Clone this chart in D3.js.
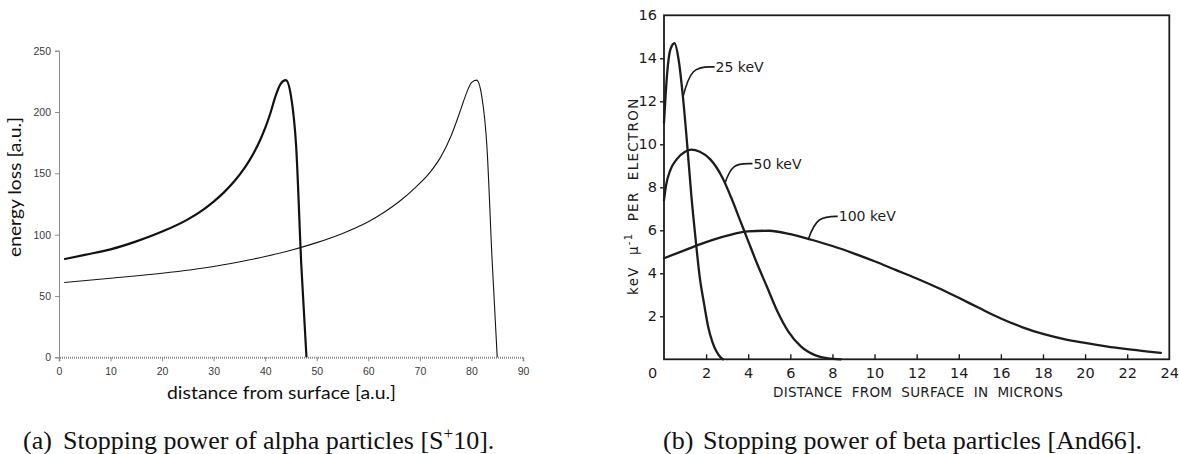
<!DOCTYPE html>
<html>
<head>
<meta charset="utf-8">
<script src="https://cdn.jsdelivr.net/npm/d3@7"></script>
<style>
  html, body { margin: 0; padding: 0; background: #fff; }
  svg { display: block; }
  text { white-space: pre; }
</style>
</head>
<body>
<svg id="fig" width="1179" height="454"></svg>
<script>
// ---------- (a) alpha particles: energy loss vs. depth ----------
const alphaDepthThick = [1, 5, 10, 15, 20, 25, 28, 30, 32, 34, 36, 37, 38, 39, 40, 41, 42, 43, 44, 45, 46, 47, 48];
const alphaLossThick  = [80, 83.5, 88, 94.5, 102.5, 112.5, 120.5, 127, 134.5, 143.5, 154.5, 161, 168.5, 177, 187, 199, 213, 223, 226, 213, 172, 75, 0];

const alphaDepthThin = [1, 10, 20, 30, 37, 40, 45, 50, 55, 60, 63, 66, 69, 72, 74, 76, 77, 78, 79, 80, 81, 82, 83, 84, 85];
const alphaLossThin  = [61, 64.5, 68.5, 74, 79.5, 82.2, 87.3, 93.5, 101, 110.5, 118, 127, 138, 151, 163, 180, 191, 203, 215, 224, 226, 213, 172, 80, 0];

const alphaXTicks = [0, 10, 20, 30, 40, 50, 60, 70, 80, 90];
const alphaYTicks = [0, 50, 100, 150, 200, 250];

// ---------- (b) beta particles: keV per micron per electron ----------
const beta25Depth  = [0, 0.15, 0.3, 0.5, 0.7, 0.9, 1.1, 1.3, 1.5, 1.7, 1.9, 2.1, 2.3, 2.5, 2.7, 2.8];
const beta25Loss   = [11, 13.3, 14.4, 14.7, 13.9, 12.2, 10.0, 7.6, 5.6, 3.8, 2.6, 1.5, 0.8, 0.35, 0.08, 0];

const beta50Depth  = [0, 0.1, 0.3, 0.6, 1.0, 1.3, 1.7, 2.2, 2.8, 3.2, 3.6, 4.0, 4.4, 4.9, 5.4, 5.9, 6.5, 7.2, 7.8, 8.4];
const beta50Loss   = [7.4, 8.1, 8.8, 9.3, 9.65, 9.75, 9.65, 9.3, 8.4, 7.5, 6.5, 5.5, 4.5, 3.35, 2.2, 1.3, 0.6, 0.18, 0.04, 0];

const beta100Depth = [0, 1, 2, 3, 4, 5, 6, 7, 8, 9, 10, 11, 12, 13, 14, 15, 16, 17, 18, 19, 20, 21, 22, 23, 23.6];
const beta100Loss  = [4.7, 5.08, 5.45, 5.75, 5.95, 5.98, 5.82, 5.56, 5.27, 4.93, 4.56, 4.16, 3.76, 3.33, 2.86, 2.37, 1.9, 1.5, 1.18, 0.94, 0.76, 0.6, 0.47, 0.36, 0.3];

const betaXTicks = [0, 2, 4, 6, 8, 10, 12, 14, 16, 18, 20, 22, 24];
const betaYTicks = [2, 4, 6, 8, 10, 12, 14, 16];

// curve labels: text, point on the curve, bend of the leader, start of the text (data units)
const betaLabels     = ["25 keV", "50 keV", "100 keV"];
const betaLabelAnchU = [0.9, 2.9, 6.86];
const betaLabelAnchV = [12.2, 8.2, 5.6];
const betaLabelEndU  = [2.19, 4.0, 8.2];
const betaLabelEndV  = [13.6, 9.1, 6.65];
const betaLabelTxtU  = [2.45, 4.25, 8.3];

const svg = d3.select("#fig");

// ================= panel (a) =================
const xA = d3.scaleLinear().domain([0, 90]).range([59, 523]);
const yA = d3.scaleLinear().domain([0, 250]).range([357.3, 50.7]);
const gA = svg.append("g");

// y axis
const yAxisA = d3.axisLeft(yA).tickValues(alphaYTicks).tickSize(4).tickPadding(4);
gA.append("g").attr("transform", `translate(${xA(0)},0)`).call(yAxisA)
  .call(g => {
    g.select(".domain").attr("stroke", "#8c8c8c").attr("stroke-width", 1);
    g.selectAll(".tick line").attr("stroke", "#8c8c8c");
    g.selectAll(".tick text").attr("fill", "#3a3a3a")
      .style("font-family", "Liberation Sans, Arial, sans-serif").style("font-size", "10.5px");
  });

// x axis
const xAxisA = d3.axisBottom(xA).tickValues(alphaXTicks).tickSize(4).tickPadding(6);
gA.append("g").attr("transform", `translate(0,${yA(0)})`).call(xAxisA)
  .call(g => {
    g.select(".domain").attr("stroke", "#8a8a8a").attr("stroke-width", 2).attr("stroke-dasharray", "1,1");
    g.selectAll(".tick line").attr("stroke", "#8c8c8c");
    g.selectAll(".tick text").attr("fill", "#3a3a3a")
      .style("font-family", "Liberation Sans, Arial, sans-serif").style("font-size", "10.5px");
  });

const lineA = d3.line().x(d => xA(d[0])).y(d => yA(d[1])).curve(d3.curveMonotoneX);
gA.append("path").datum(d3.zip(alphaDepthThin, alphaLossThin))
  .attr("d", lineA).attr("fill", "none").attr("stroke", "#151515").attr("stroke-width", 1.1);
gA.append("path").datum(d3.zip(alphaDepthThick, alphaLossThick))
  .attr("d", lineA).attr("fill", "none").attr("stroke", "#111").attr("stroke-width", 2.2)
  .attr("stroke-linejoin", "round");

// axis titles
gA.append("text").attr("x", 167).attr("y", 399)
  .attr("textLength", 229).attr("lengthAdjust", "spacingAndGlyphs")
  .style("font-family", "Lato, 'Open Sans', sans-serif").style("font-size", "18px").attr("fill", "#111")
  .text("distance from surface [a.u.]");
gA.append("text").attr("transform", "translate(21,187) rotate(-90)")
  .attr("text-anchor", "middle")
  .attr("textLength", 140).attr("lengthAdjust", "spacingAndGlyphs")
  .style("font-family", "Lato, 'Open Sans', sans-serif").style("font-size", "18px").attr("fill", "#111")
  .text("energy loss [a.u.]");

// ================= panel (b) =================
const xB = d3.scaleLinear().domain([0, 24]).range([664, 1169.3]);
const yB = d3.scaleLinear().domain([0, 16]).range([359.3, 15.3]);
const gB = svg.append("g");
const ink = "#1c1c1c";
const letterFont = "'DejaVu Sans', 'Liberation Sans', sans-serif";

// frame
gB.append("rect")
  .attr("x", xB(0)).attr("y", yB(16))
  .attr("width", xB(24) - xB(0)).attr("height", yB(0) - yB(16))
  .attr("fill", "none").attr("stroke", ink).attr("stroke-width", 1.8);

// x ticks point inward, labels below
const xAxisB = d3.axisBottom(xB).tickValues(betaXTicks).tickSizeInner(-5).tickSizeOuter(0).tickPadding(5);
gB.append("g").attr("transform", `translate(0,${yB(0)})`).call(xAxisB)
  .call(g => {
    g.select(".domain").remove();
    g.selectAll(".tick line").attr("stroke", ink).attr("stroke-width", 1.4)
      .attr("display", d => (d === 0 || d === 24) ? "none" : null);
    g.selectAll(".tick text").attr("fill", ink).attr("dy", "0.95em")
      .style("font-family", letterFont).style("font-size", "14.5px")
      .attr("dx", d => d === 0 ? -12 : 0);
  });

// y ticks on the left edge
const yAxisB = d3.axisLeft(yB).tickValues(betaYTicks).tickSizeInner(4).tickSizeOuter(0).tickPadding(3);
gB.append("g").attr("transform", `translate(${xB(0)},0)`).call(yAxisB)
  .call(g => {
    g.select(".domain").remove();
    g.selectAll(".tick line").attr("stroke", ink).attr("stroke-width", 1.4)
      .attr("display", d => d === 16 ? "none" : null);
    g.selectAll(".tick text").attr("fill", ink)
      .style("font-family", letterFont).style("font-size", "14.5px");
  });

const lineB = d3.line().x(d => xB(d[0])).y(d => yB(d[1])).curve(d3.curveMonotoneX);
[[beta25Depth, beta25Loss], [beta50Depth, beta50Loss], [beta100Depth, beta100Loss]].forEach(([u, v]) => {
  gB.append("path").datum(d3.zip(u, v))
    .attr("d", lineB).attr("fill", "none").attr("stroke", ink)
    .attr("stroke-width", 2.3).attr("stroke-linejoin", "round").attr("stroke-linecap", "round");
});

// curve labels with curved leaders
betaLabels.forEach((lab, i) => {
  const ax = xB(betaLabelAnchU[i]), ay = yB(betaLabelAnchV[i]);
  const ex = xB(betaLabelEndU[i]), ey = yB(betaLabelEndV[i]);
  const p = d3.path();
  p.moveTo(ax, ay);
  p.bezierCurveTo(ax + (ex - ax) * 0.25, ay - (ay - ey) * 0.9, ex - (ex - ax) * 0.55, ey, ex, ey);
  p.lineTo(xB(betaLabelTxtU[i]) - 1, ey);
  gB.append("path").attr("d", p.toString()).attr("fill", "none")
    .attr("stroke", ink).attr("stroke-width", 1.6);
  gB.append("text").attr("x", xB(betaLabelTxtU[i])).attr("y", ey).attr("dy", "0.36em")
    .style("font-family", letterFont).style("font-size", "14px").attr("fill", ink)
    .text(lab);
});

// axis titles
const xt = gB.append("text").attr("x", 773).attr("y", 396.5)
  .style("font-family", letterFont).style("font-size", "13.5px").attr("fill", ink)
  .text("DISTANCE  FROM  SURFACE  IN  MICRONS");
{
  const w = xt.node().getComputedTextLength();
  const n = xt.text().length;
  xt.style("letter-spacing", ((290 - w) / n) + "px");
}

const yt = gB.append("text").attr("transform", "translate(638,295) rotate(-90)")
  .style("font-family", letterFont).style("font-size", "13.5px").attr("fill", ink);
yt.append("tspan").text("keV  μ");
yt.append("tspan").attr("dy", -6).style("font-size", "10px").text("-1");
yt.append("tspan").attr("dy", 6).text("  PER  ELECTRON");
{
  const w = yt.node().getComputedTextLength();
  yt.style("letter-spacing", ((195 - w) / 21) + "px");
}

// ================= captions =================
const capFont = "'Liberation Serif', 'Times New Roman', serif";
function caption(x0, tag, body, sup, tail) {
  const t = svg.append("text").attr("x", x0).attr("y", 449)
    .style("font-family", capFont).style("font-size", "26px").attr("fill", "#111");
  t.append("tspan").text(tag);
  t.append("tspan").attr("x", x0 + 40).text(body);
  if (sup) {
    t.append("tspan").attr("dy", -10).style("font-size", "17px").text(sup);
    t.append("tspan").attr("dy", 10).text(tail);
  }
}
caption(23, "(a)", "Stopping power of alpha particles [S", "+", "10].");
caption(663, "(b)", "Stopping power of beta particles [And66].", null, null);
</script>
</body>
</html>
